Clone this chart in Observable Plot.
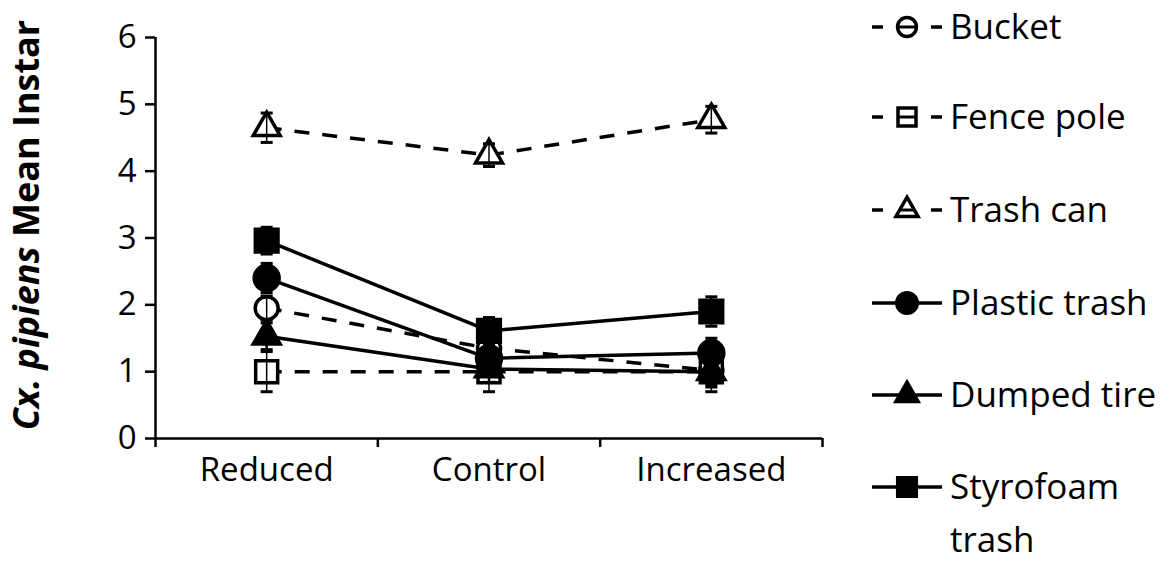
<!DOCTYPE html>
<html>
<head>
<meta charset="utf-8">
<script src="https://cdn.jsdelivr.net/npm/d3@7"></script>
<script src="https://cdn.jsdelivr.net/npm/@observablehq/plot@0.6"></script>
<style>
  html, body { margin: 0; padding: 0; background: #fff; }
  #chart svg { display: block; }
</style>
</head>
<body>
<div id="chart"></div>
<script>
// ---- Data ----
const categories = ["Reduced", "Control", "Increased"];
const seriesNames = ["Bucket", "Fence pole", "Trash can", "Plastic trash", "Dumped tire", "Styrofoam trash"];
const bucket      = [1.95, 1.35, 1.02];
const bucketErr   = [0.18, 0.2, 0.25];
const fencePole   = [1.0, 1.0, 1.0];
const fencePoleErr= [0.3, 0.3, 0.3];
const trashCan    = [4.65, 4.24, 4.77];
const trashCanErr = [0.22, 0.17, 0.2];
const plasticTrash    = [2.4, 1.2, 1.28];
const plasticTrashErr = [0.22, 0.2, 0.22];
const dumpedTire      = [1.53, 1.04, 1.0];
const dumpedTireErr   = [0.2, 0.2, 0.2];
const styrofoam       = [2.96, 1.61, 1.9];
const styrofoamErr    = [0.2, 0.2, 0.22];
const yTicks = [0, 1, 2, 3, 4, 5, 6];

const seriesValues = [bucket, fencePole, trashCan, plasticTrash, dumpedTire, styrofoam];
const seriesErrors = [bucketErr, fencePoleErr, trashCanErr, plasticTrashErr, dumpedTireErr, styrofoamErr];

// ---- Styles ----
const styles = [
  {symbol: "circle",   r: 11.5, fill: "white", dashed: true},
  {symbol: "square",   r: 12.4, fill: "white", dashed: true},
  {symbol: "triangle", r: 10,   fill: "white", dashed: true},
  {symbol: "circle",   r: 12.5, fill: "black", dashed: false},
  {symbol: "triangle", r: 10,   fill: "black", dashed: false},
  {symbol: "square",   r: 12.8, fill: "black", dashed: false}
];
const FONT = "'Open Sans', sans-serif";

const capSymbol = {
  draw(context, size) {
    context.moveTo(-6, 0);
    context.lineTo(6, 0);
  }
};

const marks = [];
seriesNames.forEach((name, s) => {
  const rows = categories.map((c, j) => ({series: name, cat: j, value: seriesValues[s][j], err: seriesErrors[s][j]}));
  const st = styles[s];
  marks.push(Plot.line(rows, {
    x: d => d.cat + 0.5, y: "value", stroke: "black", strokeWidth: 3.5,
    strokeDasharray: st.dashed ? "15,13" : null, strokeLinecap: "butt"
  }));
  marks.push(Plot.dot(rows, {
    x: d => d.cat + 0.5, y: "value", symbol: () => st.symbol, r: st.r,
    fill: st.fill, stroke: "black", strokeWidth: 3.5
  }));
  marks.push(Plot.ruleX(rows, {
    x: d => d.cat + 0.5, y1: d => d.value - d.err, y2: d => d.value + d.err,
    stroke: "black", strokeWidth: st.fill === "white" ? 1.5 : 2.5
  }));
  marks.push(Plot.dot(rows, {x: d => d.cat + 0.5, y: d => d.value + d.err, symbol: capSymbol, r: 5, fill: "none", stroke: "black", strokeWidth: 3}));
  marks.push(Plot.dot(rows, {x: d => d.cat + 0.5, y: d => d.value - d.err, symbol: capSymbol, r: 5, fill: "none", stroke: "black", strokeWidth: 3}));
});

const plot = Plot.plot({
  width: 1169,
  height: 565,
  marginLeft: 155,
  marginRight: 347,
  marginTop: 37,
  marginBottom: 127,
  style: {fontFamily: FONT, background: "white", color: "black"},
  x: {type: "linear", domain: [0, 3]},
  y: {type: "linear", domain: [0, 6]},
  marks: [
    Plot.axisY({ticks: yTicks, tickSize: 10, tickPadding: 9, tickFormat: d => String(d), fontSize: 33, strokeWidth: 2.5, label: null}),
    Plot.axisX({ticks: [0, 1, 2, 3], tickSize: 9, tickFormat: () => "", strokeWidth: 2.5, label: null}),
    Plot.text(categories, {x: (d, i) => i + 0.5, y: () => 0, text: d => d, dy: 32, fontSize: 33, fill: "black"}),
    ...marks,
    Plot.ruleY([0], {strokeWidth: 2.5}),
    Plot.ruleX([0], {strokeWidth: 2.5})
  ]
});

document.getElementById("chart").appendChild(plot);

// ---- Y title with italic part ----
const svg = d3.select(plot);
const title = svg.append("text")
  .attr("transform", "translate(25,225) rotate(-90)")
  .attr("text-anchor", "middle")
  .attr("dominant-baseline", "central")
  .attr("font-family", FONT)
  .attr("font-size", 36)
  .attr("font-weight", "bold")
  .attr("fill", "black");
title.append("tspan").attr("font-style", "italic").text("Cx. pipiens");
title.append("tspan").text(" Mean Instar");

// ---- Legend ----
const legendRows = [27, 117, 210, 303, 395, 487];
const lg = svg.append("g").attr("font-family", FONT).attr("font-size", 35).attr("fill", "black").attr("text-anchor", "start");
seriesNames.forEach((name, s) => {
  const st = styles[s];
  const g = lg.append("g").attr("transform", `translate(0,${legendRows[s]})`);
  if (st.dashed) {
    g.append("line").attr("x1", 872).attr("x2", 883).attr("y1", 0).attr("y2", 0).attr("stroke", "black").attr("stroke-width", 3.5);
    g.append("line").attr("x1", 931).attr("x2", 942).attr("y1", 0).attr("y2", 0).attr("stroke", "black").attr("stroke-width", 3.5);
  } else {
    g.append("line").attr("x1", 872).attr("x2", 942).attr("y1", 0).attr("y2", 0).attr("stroke", "black").attr("stroke-width", 3.5);
  }
  const symType = st.symbol === "circle" ? d3.symbolCircle : st.symbol === "square" ? d3.symbolSquare : d3.symbolTriangle;
  const rr = st.r * 0.82;
  g.append("path")
    .attr("d", d3.symbol(symType, Math.PI * rr * rr)())
    .attr("transform", "translate(907,0)")
    .attr("fill", st.fill).attr("stroke", "black").attr("stroke-width", 3.5);
  if (st.fill === "white") {
    g.append("line").attr("x1", 899).attr("x2", 915).attr("y1", 0).attr("y2", 0).attr("stroke", "black").attr("stroke-width", 3);
  }
  const words = name === "Styrofoam trash" ? ["Styrofoam", "trash"] : [name];
  words.forEach((w, k) => {
    g.append("text").attr("x", 950).attr("y", k * 53).attr("dy", "0.35em").text(w);
  });
});
</script>
</body>
</html>
